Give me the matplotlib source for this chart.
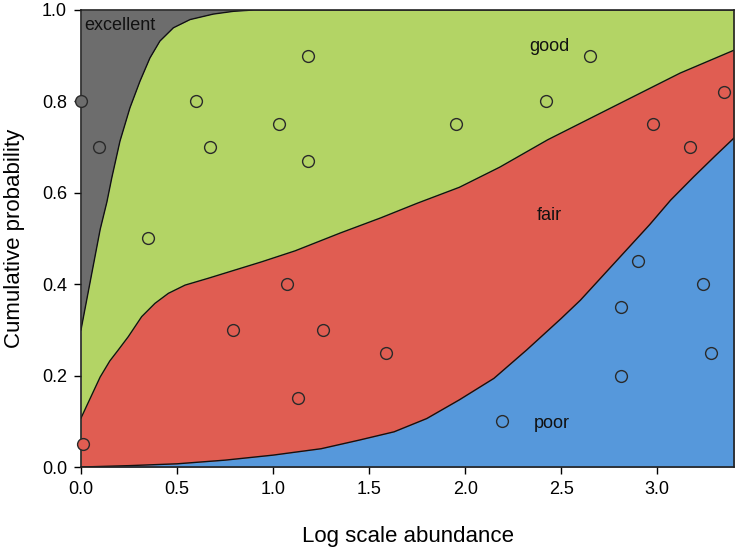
import matplotlib
matplotlib.use("Agg")
import matplotlib.pyplot as plt

plt.rcParams['font.family'] = ['Liberation Sans', 'DejaVu Sans']

# boundary curves
poor_x = [0, 0.25, 0.5, 0.75, 1.0, 1.25, 1.45, 1.63, 1.80, 1.97, 2.15, 2.32, 2.50, 2.60,
          2.72, 2.84, 2.96, 3.07, 3.19, 3.3, 3.4]
poor_y = [0, 0.003, 0.007, 0.015, 0.026, 0.040, 0.059, 0.077, 0.106, 0.147, 0.194, 0.256, 0.325, 0.365,
          0.42, 0.475, 0.53, 0.584, 0.635, 0.68, 0.72]

fair_x = [0, 0.05, 0.10, 0.15, 0.194, 0.246, 0.316, 0.385, 0.455, 0.542, 0.663, 0.802, 0.941, 1.115,
          1.35, 1.56, 1.75, 1.97, 2.18, 2.43, 2.77, 3.12, 3.4]
fair_y = [0.107, 0.152, 0.197, 0.232, 0.256, 0.285, 0.329, 0.358, 0.380, 0.398, 0.413, 0.431, 0.449, 0.473,
          0.512, 0.545, 0.577, 0.612, 0.656, 0.716, 0.788, 0.862, 0.912]

good_x = [0, 0.05, 0.10, 0.135, 0.160, 0.203, 0.255, 0.307, 0.359, 0.411, 0.481, 0.568, 0.689, 0.793, 0.9, 3.4]
good_y = [0.30, 0.41, 0.52, 0.58, 0.632, 0.713, 0.786, 0.844, 0.895, 0.932, 0.961, 0.979, 0.991, 0.997, 1.0, 1.0]

# observations
exc_pts_x = [0.0, 0.094]
exc_pts_y = [0.8, 0.7]
good_pts_x = [0.35, 0.60, 0.67, 1.03, 1.18, 1.18, 1.95, 2.42, 2.65]
good_pts_y = [0.5, 0.8, 0.7, 0.75, 0.9, 0.67, 0.75, 0.8, 0.9]
fair_pts_x = [0.01, 0.79, 1.07, 1.13, 1.26, 1.59, 2.98, 3.17, 3.35]
fair_pts_y = [0.05, 0.3, 0.4, 0.15, 0.3, 0.25, 0.75, 0.7, 0.82]
poor_pts_x = [2.19, 2.81, 2.90, 2.81, 3.24, 3.28]
poor_pts_y = [0.1, 0.35, 0.45, 0.2, 0.4, 0.25]

grey = '#6d6d6d'
green = '#b3d465'
red = '#e05d52'
blue = '#5698db'

fig = plt.figure(figsize=(7.41, 5.48), dpi=100)
ax = fig.add_axes([0.1093, 0.1478, 0.8813, 0.834])

ax.fill_between(good_x, good_y, 1, color=grey, lw=0)
ax.fill_between(good_x, 0, good_y, color=green, lw=0)
ax.fill_between(fair_x, 0, fair_y, color=red, lw=0)
ax.fill_between(poor_x, 0, poor_y, color=blue, lw=0)
for cx, cy in [(good_x, good_y), (fair_x, fair_y), (poor_x, poor_y)]:
    ax.plot(cx, cy, color='#111111', lw=1)

for px, py, c in [(exc_pts_x, exc_pts_y, grey), (good_pts_x, good_pts_y, green),
                  (fair_pts_x, fair_pts_y, red), (poor_pts_x, poor_pts_y, blue)]:
    ax.plot(px, py, 'o', ms=8.5, mfc=c, mec='#2a2a2a', mew=1, clip_on=False, zorder=5)

ax.text(0.20, 0.965, 'excellent', fontsize=13, color='#111111', ha='center', va='center')
ax.text(2.44, 0.92, 'good', fontsize=13, color='#111111', ha='center', va='center')
ax.text(2.44, 0.551, 'fair', fontsize=13, color='#111111', ha='center', va='center')
ax.text(2.45, 0.096, 'poor', fontsize=13, color='#111111', ha='center', va='center')

ax.set_xlim(0, 3.4)
ax.set_ylim(0, 1.0)
ax.set_xticks([0, 0.5, 1.0, 1.5, 2.0, 2.5, 3.0])
ax.set_yticks([0, 0.2, 0.4, 0.6, 0.8, 1.0])
ax.set_xticklabels(['0.0', '0.5', '1.0', '1.5', '2.0', '2.5', '3.0'])
ax.set_yticklabels(['0.0', '0.2', '0.4', '0.6', '0.8', '1.0'])
ax.tick_params(direction='out', length=5, width=1, labelsize=13, pad=5)
for s in ax.spines.values():
    s.set_linewidth(1.2)
    s.set_color('#222222')

ax.set_xlabel('Log scale abundance', fontsize=16, labelpad=20)
ax.set_ylabel('Cumulative probability', fontsize=16, labelpad=12)

fig.savefig('out.png', dpi=100)
